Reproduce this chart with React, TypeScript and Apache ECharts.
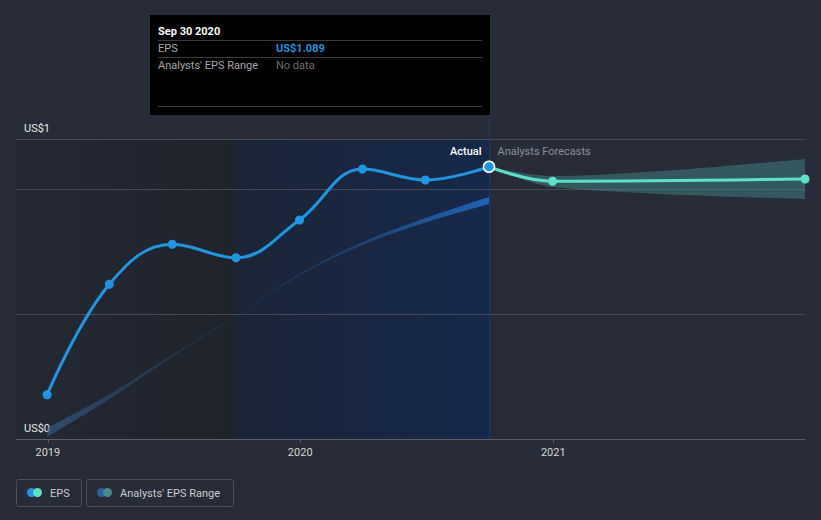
import React, { useEffect, useRef } from 'react';
import * as echarts from 'echarts';

// ---- data ----
const actualDates = ['2018-12-31', '2019-03-31', '2019-06-30', '2019-09-30', '2019-12-31', '2020-03-31', '2020-06-30', '2020-09-30'];
const actualEps = [0.177, 0.619, 0.779, 0.725, 0.876, 1.08, 1.036, 1.089];

const forecastDates = ['2020-09-30', '2020-12-31', '2021-12-31'];
const forecastEps = [1.089, 1.031, 1.04];
const forecastLow = [1.089, 1.008, 0.96];
const forecastHigh = [1.089, 1.052, 1.12];

const pastRangeDates = actualDates;
const pastRangeLow = [0.008, 0.16, 0.33, 0.49, 0.655, 0.776, 0.866, 0.94];
const pastRangeHigh = [0.044, 0.178, 0.337, 0.494, 0.661, 0.788, 0.884, 0.968];

const xMin = '2018-11-16';
const xMax = '2021-12-31';
const pastShadeEnd = '2019-09-30';
const lastActual = '2020-09-30';
const yMin = 0;
const yMax = 1.2;
const yInterval = 0.5;
const yTopLabel = 'US$1';
const yBottomLabel = 'US$0';

const tooltipDate = 'Sep 30 2020';
const tooltipEps = 'US$1.089';
const tooltipRange = 'No data';

const FONT = 'Roboto, "Noto Sans", sans-serif';

export default function App() {
  const ref = useRef<HTMLDivElement>(null);
  useEffect(() => {
    document.body.style.margin = '0';
    document.body.style.background = '#272c38';
    const chart = echarts.init(ref.current!, undefined, { renderer: 'svg' });

    const zip = (d: string[], v: number[]) => d.map((x, i) => [x, v[i]]);

    const option: any = {
      animation: false,
      backgroundColor: '#272c38',
      grid: { left: 16, right: 16, top: 139, bottom: 81, containLabel: false },
      xAxis: {
        type: 'time',
        z: 1,
        min: xMin,
        max: xMax,
        splitNumber: 3,
        minInterval: 365 * 24 * 3600 * 1000,
        axisLine: { show: true, lineStyle: { color: '#5a5f6a', width: 1 } },
        axisTick: { show: true, length: 4, lineStyle: { color: '#5a5f6a' } },
        axisLabel: {
          color: '#d6d6d6',
          fontSize: 11,
          fontFamily: FONT,
          margin: 8,
          formatter: '{yyyy}',
          showMaxLabel: false,
          showMinLabel: false,
        },
        splitLine: { show: false },
      },
      yAxis: {
        type: 'value',
        z: 1,
        min: yMin,
        max: yMax,
        interval: yInterval,
        axisLine: { show: false },
        axisTick: { show: false },
        splitLine: { show: true, lineStyle: { color: '#454a55', width: 1 } },
        axisLabel: {
          inside: true,
          showMinLabel: true,
          showMaxLabel: true,
          hideOverlap: false,
          margin: 8,
          color: '#e8e8e8',
          fontSize: 11,
          fontFamily: FONT,
          verticalAlign: 'bottom',
          padding: [0, 0, 5, 0],
          formatter: (v: any) => {
            const n = Number(v);
            if (Math.abs(n - yMax) < 1e-9) return yTopLabel;
            if (Math.abs(n - yMin) < 1e-9) return yBottomLabel;
            return '';
          },
        },
      },
      series: [
        {
          name: 'shade',
          type: 'line',
          data: [],
          silent: true,
          z: 0,
          markArea: {
            silent: true,
            z: 0,
            data: [
              [
                {
                  xAxis: xMin,
                  itemStyle: {
                    color: new echarts.graphic.LinearGradient(0, 0, 1, 0, [
                      { offset: 0, color: '#242934' },
                      { offset: 1, color: '#1f232c' },
                    ]),
                  },
                },
                { xAxis: pastShadeEnd },
              ],
              [
                {
                  xAxis: pastShadeEnd,
                  itemStyle: {
                    color: new echarts.graphic.LinearGradient(0, 0, 1, 0, [
                      { offset: 0, color: '#1c2537' },
                      { offset: 1, color: '#16294a' },
                    ]),
                  },
                },
                { xAxis: lastActual },
              ],
            ],
          },
        },
        {
          name: 'pastLow',
          type: 'line',
          stack: 'past',
          data: zip(pastRangeDates, pastRangeLow),
          smooth: 0.3,
          showSymbol: false,
          lineStyle: { opacity: 0 },
          silent: true,
          z: 2,
        },
        {
          name: "Analysts' EPS Range",
          type: 'line',
          stack: 'past',
          data: zip(pastRangeDates, pastRangeHigh.map((h, i) => h - pastRangeLow[i])),
          smooth: 0.3,
          showSymbol: false,
          lineStyle: { opacity: 0 },
          areaStyle: {
            opacity: 1,
            color: new echarts.graphic.LinearGradient(0, 0, 1, 0, [
              { offset: 0, color: 'rgba(52,100,150,0.6)' },
              { offset: 0.45, color: 'rgba(40,90,150,0.15)' },
              { offset: 1, color: 'rgba(32,110,200,0.85)' },
            ]),
          },
          silent: true,
          z: 2,
        },
        {
          name: 'fcLow',
          type: 'line',
          stack: 'fc',
          data: zip(forecastDates, forecastLow),
          smooth: 0.3,
          showSymbol: false,
          lineStyle: { opacity: 0 },
          silent: true,
          z: 2,
        },
        {
          name: 'fcRange',
          type: 'line',
          stack: 'fc',
          data: zip(forecastDates, forecastHigh.map((h, i) => h - forecastLow[i])),
          smooth: 0.3,
          showSymbol: false,
          lineStyle: { opacity: 0 },
          areaStyle: { color: 'rgba(93,224,200,0.25)', opacity: 1 },
          silent: true,
          z: 2,
        },
        {
          name: 'EPS forecast',
          type: 'line',
          data: forecastDates.map((d, i) =>
            i === 0 ? { value: [d, forecastEps[i]], symbol: 'none' } : [d, forecastEps[i]]
          ),
          smooth: 0.4,
          symbol: 'circle',
          symbolSize: 9,
          showAllSymbol: true,
          itemStyle: { color: '#5de0c8' },
          lineStyle: { color: '#5de0c8', width: 3 },
          z: 3,
        },
        {
          name: 'EPS',
          type: 'line',
          data: actualDates.map((d, i) =>
            i === actualDates.length - 1
              ? { value: [d, actualEps[i]], symbolSize: 11, itemStyle: { color: '#2394df', borderColor: '#ffffff', borderWidth: 1.5 } }
              : [d, actualEps[i]]
          ),
          smooth: 0.4,
          symbol: 'circle',
          symbolSize: 9,
          showAllSymbol: true,
          itemStyle: { color: '#2394df' },
          lineStyle: { color: '#2394df', width: 3 },
          z: 4,
        },
      ],
    };
    chart.setOption(option);

    const pTop = chart.convertToPixel({ gridIndex: 0 }, [lastActual, yMax]) as number[];
    const pBot = chart.convertToPixel({ gridIndex: 0 }, [lastActual, yMin]) as number[];
    const lx = Math.round(pTop[0]) + 0.5;

    const tipX = 150, tipY = 15, tipW = 340, tipH = 100;
    const f11 = `11px ${FONT}`;
    const graphics: any[] = [
      { type: 'line', shape: { x1: lx, y1: tipY + tipH, x2: lx, y2: pBot[1] }, style: { stroke: '#1f3c62', lineWidth: 1 }, z: 2 },
      { type: 'text', x: lx - 8, y: pTop[1] + 12, style: { text: 'Actual', fill: '#ffffff', font: `500 11px ${FONT}`, align: 'right', verticalAlign: 'middle' }, z: 10 },
      { type: 'text', x: lx + 8, y: pTop[1] + 12, style: { text: 'Analysts Forecasts', fill: '#8b9099', font: f11, align: 'left', verticalAlign: 'middle' }, z: 10 },
      // tooltip box
      { type: 'rect', shape: { x: tipX, y: tipY, width: tipW, height: tipH }, style: { fill: '#000000' }, z: 20 },
      { type: 'text', x: 158, y: 31.5, style: { text: tooltipDate, fill: '#ffffff', font: `bold 11px ${FONT}`, verticalAlign: 'middle' }, z: 21 },
      { type: 'line', shape: { x1: 158, y1: 40.5, x2: 482, y2: 40.5 }, style: { stroke: '#3c3c3c', lineWidth: 1 }, z: 21 },
      { type: 'text', x: 158, y: 48.5, style: { text: 'EPS', fill: '#a9a9a9', font: f11, verticalAlign: 'middle' }, z: 21 },
      { type: 'text', x: 276, y: 48.5, style: { text: tooltipEps, fill: '#2394df', font: `bold 11px ${FONT}`, verticalAlign: 'middle' }, z: 21 },
      { type: 'line', shape: { x1: 158, y1: 57.5, x2: 482, y2: 57.5 }, style: { stroke: '#3c3c3c', lineWidth: 1 }, z: 21 },
      { type: 'text', x: 158, y: 65, style: { text: "Analysts' EPS Range", fill: '#a9a9a9', font: f11, verticalAlign: 'middle' }, z: 21 },
      { type: 'text', x: 276, y: 65, style: { text: tooltipRange, fill: '#6f6f6f', font: f11, verticalAlign: 'middle' }, z: 21 },
      { type: 'line', shape: { x1: 158, y1: 106.5, x2: 482, y2: 106.5 }, style: { stroke: '#3c3c3c', lineWidth: 1 }, z: 21 },
      // legend
      { type: 'rect', shape: { x: 16.5, y: 479.5, width: 65, height: 27, r: 2 }, style: { fill: 'none', stroke: '#4b505b', lineWidth: 1 }, z: 20 },
      { type: 'circle', shape: { cx: 31.5, cy: 492.5, r: 4.5 }, style: { fill: '#2394df' }, z: 21 },
      { type: 'circle', shape: { cx: 37.5, cy: 492.5, r: 4.5 }, style: { fill: '#5de0c8' }, z: 22 },
      { type: 'text', x: 50, y: 493, style: { text: 'EPS', fill: '#c9cbcf', font: f11, verticalAlign: 'middle' }, z: 21 },
      { type: 'rect', shape: { x: 86.5, y: 479.5, width: 147, height: 27, r: 2 }, style: { fill: 'none', stroke: '#4b505b', lineWidth: 1 }, z: 20 },
      { type: 'circle', shape: { cx: 101.5, cy: 492.5, r: 4.5 }, style: { fill: '#2b6395' }, z: 21 },
      { type: 'circle', shape: { cx: 107.5, cy: 492.5, r: 4.5 }, style: { fill: '#4b8a8c' }, z: 22 },
      { type: 'text', x: 120, y: 493, style: { text: "Analysts' EPS Range", fill: '#c9cbcf', font: f11, verticalAlign: 'middle' }, z: 21 },
    ];
    chart.setOption({ graphic: graphics });

    return () => chart.dispose();
  }, []);
  return <div ref={ref} style={{ position: 'fixed', left: 0, top: 0, width: 821, height: 520 }} />;
}
